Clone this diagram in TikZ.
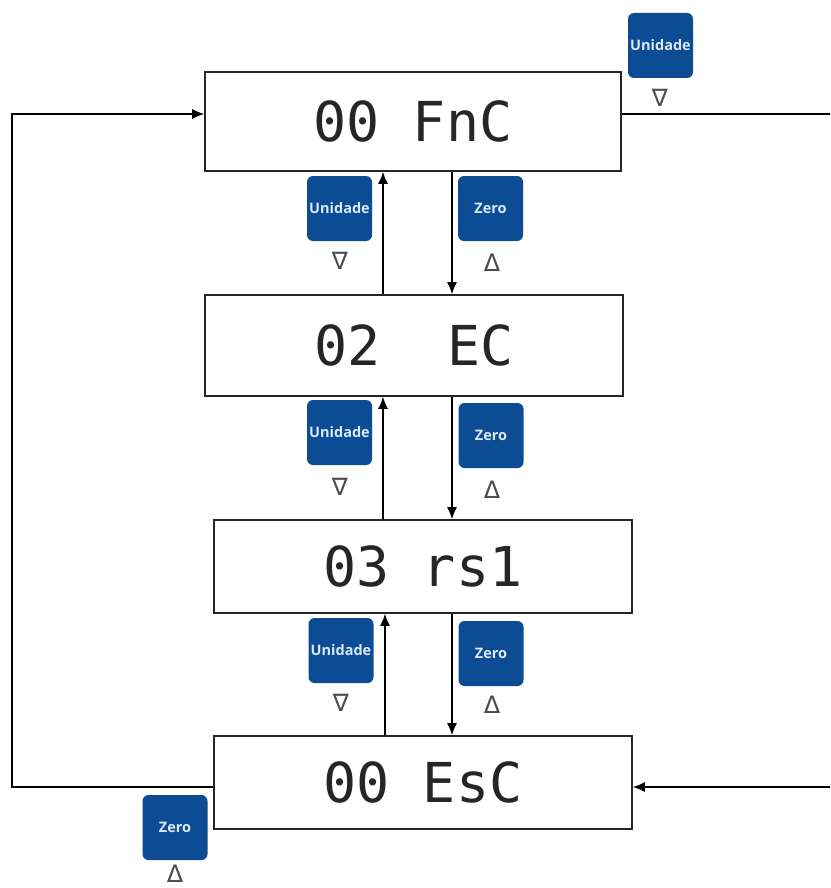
\documentclass[tikz,border=0pt]{standalone}
\usepackage{fontspec}
\setmainfont{Open Sans}
\newfontfamily\segfont{DejaVu Sans Mono}
\newfontfamily\symfont{DejaVu Sans}
\usetikzlibrary{arrows.meta}
\definecolor{btnblue}{HTML}{0B4C94}
\definecolor{btntext}{HTML}{DCE8F5}
\begin{document}
\begin{tikzpicture}[x=1pt,y=-1pt,
  disp/.style={draw=black!85, line width=1.6pt, inner sep=0pt, text=black!85,
    font=\segfont\fontsize{55}{55}\selectfont},
  btn/.style={fill=btnblue, rounded corners=6pt, minimum width=65pt,
    minimum height=65pt, inner sep=0pt, text=btntext,
    font=\bfseries\fontsize{14.5}{14.5}\selectfont},
  sym/.style={text=black!70, font=\symfont\fontsize{24}{24}\selectfont, inner sep=0pt},
  arr/.style={-{Latex[length=12pt,width=10pt]}, line width=1.3pt}]
\useasboundingbox (0,0) rectangle (830,888);
\clip (0,0) rectangle (830,888);

% displays
\node[disp, minimum width=416pt, minimum height=99pt] (b1) at (413,121.5) {00 FnC};
\node[disp, minimum width=418pt, minimum height=101pt] (b2) at (414,345.5) {02\ \ EC};
\node[disp, minimum width=418pt, minimum height=93pt] (b3) at (423,566.5) {03 rs1};
\node[disp, minimum width=418pt, minimum height=93pt] (b4) at (423,782.5) {00 EsC};

% buttons
\node[btn] (u0) at (660.5,45.5) {Unidade};
\node[sym] (u0s) at (660,98) {∇};
\node[btn] (u1) at (339.5,208.5) {Unidade};
\node[sym] (u1s) at (340,261) {∇};
\node[btn] (z1) at (490.5,208.5) {Zero};
\node[sym] (z1s) at (492,263) {Δ};
\node[btn] (u2) at (339.5,432.5) {Unidade};
\node[sym] (u2s) at (340,487) {∇};
\node[btn] (z2) at (491,435.5) {Zero};
\node[sym] (z2s) at (492,490) {Δ};
\node[btn] (u3) at (341,650.5) {Unidade};
\node[sym] (u3s) at (341,703) {∇};
\node[btn] (z3) at (491,653.5) {Zero};
\node[sym] (z3s) at (492,705) {Δ};
\node[btn] (z0) at (175,827.5) {Zero};
\node[sym] (z0s) at (175,874) {Δ};

% helper coordinates
\coordinate (xu) at (383,0);
\coordinate (xu3) at (385,0);
\coordinate (xd) at (452,0);
\coordinate (L1) at (12,114);
\coordinate (L2) at (12,787);
\coordinate (R1) at (845,114);
\coordinate (R2) at (845,787);

% vertical arrows
\draw[arr] (b2.north -| xu) -- (b1.south -| xu);
\draw[arr] (b1.south -| xd) -- (b2.north -| xd);
\draw[arr] (b3.north -| xu) -- (b2.south -| xu);
\draw[arr] (b2.south -| xd) -- (b3.north -| xd);
\draw[arr] (b4.north -| xu3) -- (b3.south -| xu3);
\draw[arr] (b3.south -| xd) -- (b4.north -| xd);

% outer loops
\draw[arr] (b4.west |- L2) -- (L2) -- (L1) -- (b1.west |- L1);
\draw[arr] (b1.east |- R1) -- (R1) -- (R2) -- (b4.east |- R2);
\end{tikzpicture}
\end{document}
